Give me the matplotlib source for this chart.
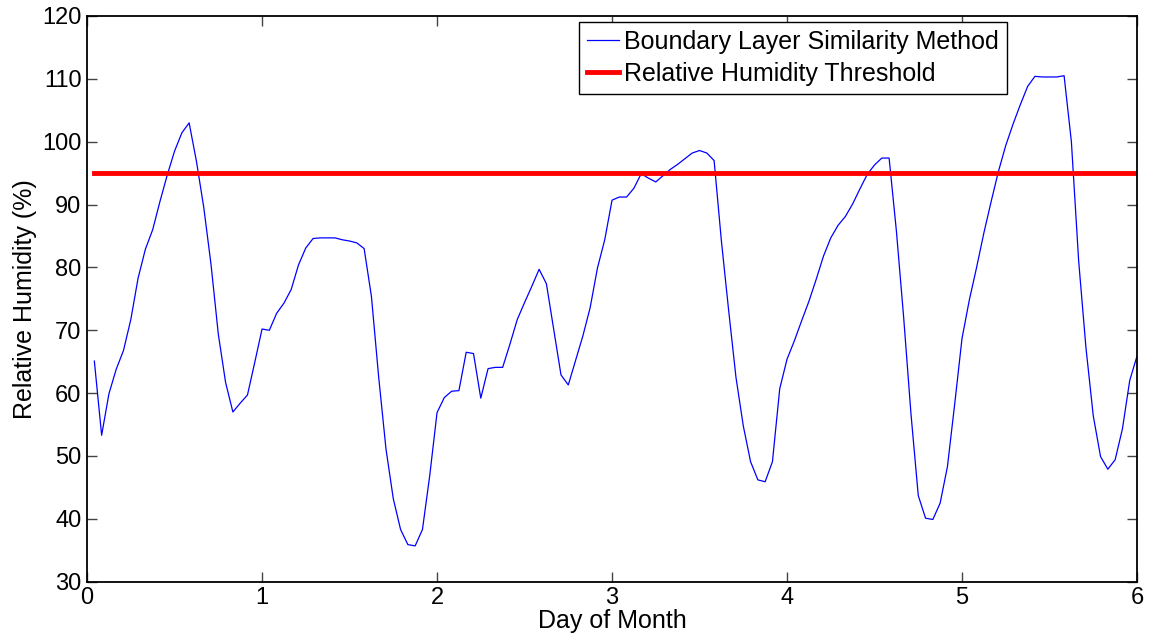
import numpy as np
import matplotlib
matplotlib.use("Agg")
import matplotlib.pyplot as plt

FONT = ["Liberation Sans", "DejaVu Sans"]
TICKSIZE = 17
LABELSIZE = 18

# hourly values, hour 1 .. 144 (6 days)
rh_day1 = [65.1, 53.3, 59.9, 63.8, 66.8, 71.7, 78.3, 82.9, 86.0, 90.5, 94.7, 98.5,
           101.4, 103.0, 96.9, 89.6, 80.5, 69.4, 61.7, 57.0, 58.4, 59.7, 64.9, 70.2]
rh_day2 = [70.0, 72.7, 74.3, 76.5, 80.4, 83.1, 84.6, 84.7, 84.7, 84.7, 84.4, 84.2,
           83.9, 83.0, 75.4, 62.5, 51.1, 43.2, 38.3, 35.9, 35.7, 38.3, 46.9, 56.9]
rh_day3 = [59.3, 60.3, 60.4, 66.5, 66.3, 59.2, 63.9, 64.1, 64.1, 67.8, 71.7, 74.4,
           77.0, 79.7, 77.4, 70.2, 62.9, 61.3, 65.2, 69.1, 73.6, 79.9, 84.4, 90.7]
rh_day4 = [91.2, 91.2, 92.6, 94.9, 94.2, 93.6, 94.6, 95.6, 96.4, 97.3, 98.2, 98.6,
           98.2, 97.0, 84.2, 73.1, 62.5, 54.8, 49.1, 46.2, 45.9, 49.1, 60.7, 65.4]
rh_day5 = [68.3, 71.5, 74.6, 78.1, 81.8, 84.7, 86.7, 88.1, 90.1, 92.5, 94.8, 96.3,
           97.4, 97.4, 85.8, 72.0, 56.7, 43.7, 40.1, 39.9, 42.5, 48.3, 58.3, 68.7]
rh_day6 = [74.8, 80.0, 85.5, 90.5, 95.3, 99.4, 102.8, 105.9, 108.8, 110.4, 110.3, 110.3,
           110.3, 110.5, 100.0, 81.0, 67.2, 56.4, 49.9, 47.9, 49.4, 54.3, 62.0, 65.9]

rh = rh_day1 + rh_day2 + rh_day3 + rh_day4 + rh_day5 + rh_day6
days = np.arange(1, len(rh) + 1) / 24.0
threshold = 95

if __name__ == "__main__":
    plt.rcParams['font.family'] = FONT

    fig = plt.figure(figsize=(11.5, 6.4), dpi=100)
    ax = fig.add_axes([0.0757, 0.0911, 0.913, 0.8839])

    ax.plot(days, rh, color='#0000ff', lw=0.9, label='Boundary Layer Similarity Method')
    ax.plot([days[0], days[-1]], [threshold, threshold], color='#ff0000', lw=3.5,
            label='Relative Humidity Threshold')

    ax.set_xlim(0, 6)
    ax.set_ylim(30, 120)
    ax.set_xticks(range(0, 7))
    ax.set_yticks(range(30, 121, 10))
    ax.tick_params(direction='in', length=7, width=1, top=True, right=True,
                   labelsize=TICKSIZE, color='#444444', pad=4)
    for sp in ax.spines.values():
        sp.set_linewidth(1.3)

    ax.set_xlabel('Day of Month', fontsize=LABELSIZE, labelpad=0)
    ax.set_ylabel('Relative Humidity (%)', fontsize=LABELSIZE, labelpad=4)

    leg = ax.legend(loc='upper right', bbox_to_anchor=(0.876, 0.99), fontsize=LABELSIZE,
                    fancybox=False, framealpha=1, edgecolor='black', handlelength=1.3,
                    handletextpad=0.2, borderaxespad=0, borderpad=0.32, labelspacing=0.32)
    leg.get_frame().set_linewidth(1.0)

    plt.savefig('out.png', dpi=100)
